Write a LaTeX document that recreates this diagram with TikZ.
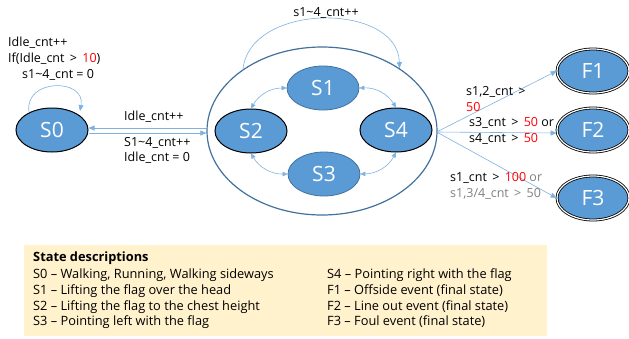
\documentclass[tikz,border=0pt]{standalone}
\usepackage{fontspec}
\setmainfont{Open Sans}
\usetikzlibrary{arrows.meta,shapes.geometric,calc}
\definecolor{sfill}{HTML}{5B9BD5}
\definecolor{sline}{HTML}{41719C}
\definecolor{arr}{HTML}{7EB1E0}
\definecolor{lbg}{HTML}{FFF2CC}
\definecolor{gr}{HTML}{808080}
\tikzset{
  st/.style={ellipse,fill=sfill,draw=black,line width=1pt,minimum width=72pt,minimum height=44pt,inner sep=0pt,text=white,font=\fontsize{21}{23}\selectfont},
  stb/.style={st,draw=sline,line width=0.8pt},
  fin/.style={st,double=white,double distance=1.2pt,line width=0.8pt,minimum width=72pt,minimum height=44pt},
  conn/.style={draw=arr,line width=0.6pt,-{Triangle[length=6pt,width=5pt]}},
  bconn/.style={draw=arr,line width=0.6pt,{Triangle[length=5pt,width=4.5pt]}-{Triangle[length=5pt,width=4.5pt]}},
  lab/.style={font=\fontsize{12.5}{14}\selectfont,inner sep=0pt,text=black},
  leg/.style={font=\fontsize{12.8}{14}\selectfont,inner sep=0pt,anchor=west,text=black}
}
\begin{document}
\begin{tikzpicture}[x=1pt,y=-1pt]
\useasboundingbox (0,0) rectangle (629,338);
% big ellipse
\node[ellipse,draw=sline,line width=1.2pt,minimum width=230pt,minimum height=168pt,inner sep=0pt] (big) at (322,131) {};
\node[st] (s0) at (52,130) {S0};
\node[stb] (s1) at (323,88) {S1};
\node[st] (s2) at (251,131) {S2};
\node[stb] (s3) at (324,174) {S3};
\node[st] (s4) at (396,130) {S4};
\node[fin] (f1) at (593,71) {F1};
\node[fin] (f2) at (593,130) {F2};
\node[fin] (f3) at (593,198) {F3};
% self loop S0
\coordinate (la) at ($(s0.center)+(-23,-18)$);
\coordinate (lb) at ($(s0.center)+(28,-19)$);
\draw[conn] (la) .. controls (24,78) and (86,78) .. (lb);
\node[lab,anchor=west] (t1) at (8,43) {Idle\_cnt++};
\node[lab,anchor=west] (t2) at (8,59) {If(Idle\_cnt \,>\, \textcolor{red}{10})};
\node[lab,anchor=west] (t3) at (22,75) {s1\textasciitilde 4\_cnt = 0};
% big loop
\draw[conn] (big.142) .. controls (250,2) and (398,2) .. (big.39);
\node[lab] (t4) at (326,13) {s1\textasciitilde 4\_cnt++};
% S0 <-> big
\coordinate (bl1) at ($(big.west)+(0,-3)$);
\coordinate (bl2) at ($(big.west)+(0,2)$);
\draw[conn] (bl1) -- (s0.east |- bl1);
\draw[conn] (s0.east |- bl2) -- (bl2);
\node[lab,anchor=west] (t5) at (124,117) {Idle\_cnt++};
\node[lab,anchor=west] (t6) at (124,143) {S1\textasciitilde 4\_cnt++};
\node[lab,anchor=west] (t7) at (124,158) {Idle\_cnt = 0};
% inner bidirectional
\draw[bconn] (s1.west) to[bend right=30] (s2.north);
\draw[bconn] (s1.east) to[bend left=30] (s4.north);
\draw[bconn] (s2.south) to[bend right=30] (s3.west);
\draw[bconn] (s3.east) to[bend right=30] (s4.south);
% to finals
\coordinate (bo) at ($(big.east)+(-1,1)$);
\draw[conn] (bo) -- (f1.west);
\draw[conn] (bo) -- ($(f2.west)+(0,3)$);
\draw[conn] (bo) -- (f3.west);
\node[lab,anchor=west] (t8) at (466,92) {s1,2\_cnt \,>};
\node[lab,anchor=west] (t9) at (466,107) {\textcolor{red}{50}};
\node[lab,anchor=west] (t10) at (469,123) {s3\_cnt \,>\, \textcolor{red}{50} or};
\node[lab,anchor=west] (t11) at (469,139) {s4\_cnt \,>\, \textcolor{red}{50}};
\node[lab,anchor=west] (t12) at (450,178) {s1\_cnt \,>\, \textcolor{red}{100} \textcolor{gr}{or}};
\node[lab,anchor=west,text=gr] (t13) at (450,194) {s1,3/4\_cnt \,>\, 50};
% legend
\fill[lbg] (24,245) rectangle (547,336);
\node[leg] (l0) at (33,258) {\textbf{State descriptions}};
\node[leg] (l1) at (33,275) {S0 – Walking, Running, Walking sideways};
\node[leg] (l2) at (33,291) {S1 – Lifting the flag over the head};
\node[leg] (l3) at (33,307) {S2 – Lifting the flag to the chest height};
\node[leg] (l4) at (33,322) {S3 – Pointing left with the flag};
\node[leg] (l5) at (327,275) {S4 – Pointing right with the flag};
\node[leg] (l6) at (327,291) {F1 – Offside event (final state)};
\node[leg] (l7) at (327,307) {F2 – Line out event (final state)};
\node[leg] (l8) at (327,322) {F3 – Foul event (final state)};
\end{tikzpicture}
\end{document}
